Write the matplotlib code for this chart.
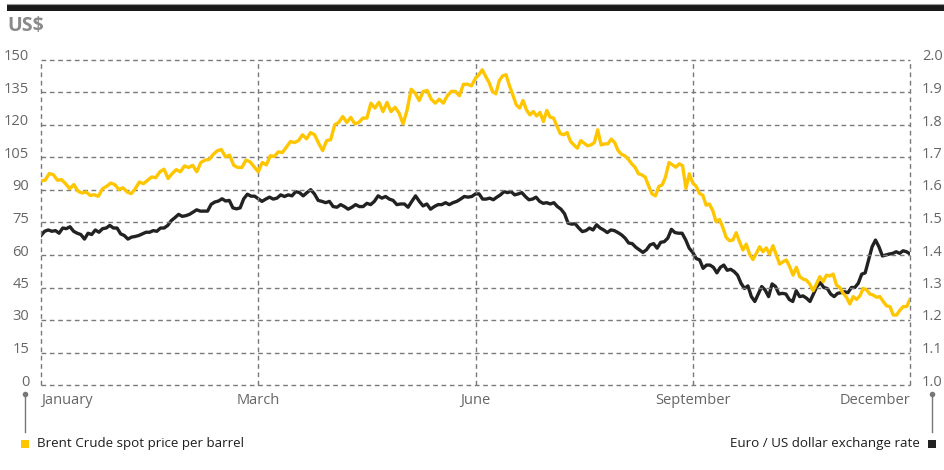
import numpy as np
import matplotlib.pyplot as plt
from matplotlib.transforms import ScaledTranslation
from matplotlib.patches import Rectangle
from matplotlib.lines import Line2D

plt.rcParams['font.family'] = ['Open Sans', 'DejaVu Sans']

# ---- data, split by the four month bands ----
month_labels = ["January", "March", "June", "September", "December"]
price_ticks = [0, 15, 30, 45, 60, 75, 90, 105, 120, 135, 150]
fx_ticks = [1.0, 1.1, 1.2, 1.3, 1.4, 1.5, 1.6, 1.7, 1.8, 1.9, 2.0]

# Brent Crude spot price, US$ per barrel
brent_jan_mar = [94.2, 94.5, 97.6, 97.1, 94.5, 94.8, 92.9, 90.6, 92.5, 89.5, 88.6, 89.1, 87.5, 87.8,
                 87.1, 90.6, 91.7, 93.2, 92.5, 90.2, 91.0, 89.1, 88.3, 90.6, 93.7, 92.9, 94.5, 96.0,
                 95.7, 98.4, 99.6, 95.3, 97.6, 99.4, 98.4, 101.1, 100.4, 101.4, 98.4, 102.7, 103.8,
                 104.1, 106.4, 108.1, 108.7, 105.3, 106.1, 101.4, 100.4, 100.4, 103.8, 103.0, 100.7, 98.4]
brent_mar_jun = [102.7, 101.6, 105.8, 105.5, 107.6, 107.3, 109.8, 112.4, 111.9, 112.8, 115.5, 113.6,
                 116.5, 115.5, 111.6, 108.2, 112.8, 113.2, 120.1, 121.2, 123.9, 121.2, 123.5, 120.5,
                 121.2, 123.2, 123.2, 130.1, 127.8, 130.5, 126.2, 130.4, 126.2, 128.2, 125.5, 120.5,
                 127.0, 136.5, 134.7, 131.3, 135.5, 135.9, 131.9, 130.1, 131.9, 130.1, 133.5, 135.5,
                 135.5, 133.5, 138.8, 138.8, 138.1, 141.6]
brent_jun_sep = [143.2, 145.5, 142.4, 139.6, 135.5, 134.4, 140.5, 142.7, 143.2, 138.1, 133.9, 129.3,
                 127.8, 131.3, 127.0, 124.7, 126.2, 124.2, 125.8, 121.6, 126.7, 123.6, 123.2, 119.4,
                 116.0, 115.5, 116.5, 112.4, 110.8, 109.3, 112.8, 111.6, 110.4, 110.8, 111.9, 117.8,
                 110.8, 111.3, 111.3, 113.5, 111.9, 108.2, 106.5, 105.8, 104.2, 102.1, 100.5, 97.5,
                 97.0, 95.9, 91.9, 88.2, 87.3, 91.6, 92.4, 96.2, 102.7, 101.6, 100.5, 102.1, 101.2,
                 90.8, 97.5, 93.2]
brent_sep_dec = [91.8, 88.4, 87.6, 83.0, 83.5, 80.4, 75.3, 76.4, 72.7, 68.1, 66.6, 66.9, 70.3, 66.1,
                 62.3, 65.0, 60.4, 57.9, 60.7, 63.8, 61.5, 63.3, 60.4, 64.3, 60.0, 55.8, 56.9, 57.7,
                 54.6, 50.7, 54.3, 50.0, 48.9, 48.4, 46.6, 43.5, 46.6, 50.0, 47.7, 50.7, 50.3, 51.2,
                 46.1, 45.0, 42.3, 40.5, 37.4, 40.8, 39.5, 41.1, 44.6, 43.9, 42.0, 41.5, 40.5, 40.8,
                 38.5, 36.5, 36.2, 32.3, 32.3, 34.6, 36.2, 36.2, 39.5]

# Euro / US dollar exchange rate
fx_jan_mar = [1.460, 1.473, 1.477, 1.473, 1.475, 1.467, 1.483, 1.481, 1.487, 1.473, 1.467, 1.463,
              1.449, 1.467, 1.463, 1.477, 1.470, 1.481, 1.483, 1.491, 1.483, 1.483, 1.465, 1.460,
              1.449, 1.455, 1.457, 1.460, 1.465, 1.470, 1.470, 1.475, 1.473, 1.483, 1.483, 1.491,
              1.506, 1.515, 1.525, 1.519, 1.521, 1.525, 1.532, 1.539, 1.535, 1.535, 1.535, 1.556,
              1.563, 1.566, 1.573, 1.566, 1.568, 1.545, 1.542, 1.545, 1.573, 1.587, 1.581, 1.581, 1.573]
fx_mar_jun = [1.565, 1.572, 1.578, 1.572, 1.575, 1.585, 1.580, 1.585, 1.582, 1.595, 1.592, 1.582,
              1.592, 1.601, 1.588, 1.568, 1.565, 1.561, 1.565, 1.549, 1.547, 1.555, 1.549, 1.541,
              1.547, 1.555, 1.549, 1.549, 1.559, 1.555, 1.565, 1.582, 1.575, 1.580, 1.572, 1.568,
              1.555, 1.557, 1.557, 1.547, 1.565, 1.582, 1.565, 1.551, 1.557, 1.541, 1.549, 1.555,
              1.555, 1.561, 1.555, 1.561, 1.565, 1.572, 1.580, 1.578, 1.580, 1.588]
fx_jun_sep = [1.588, 1.572, 1.572, 1.575, 1.570, 1.578, 1.585, 1.595, 1.592, 1.595, 1.585, 1.588,
              1.592, 1.580, 1.570, 1.572, 1.578, 1.565, 1.559, 1.561, 1.557, 1.561, 1.549, 1.541,
              1.527, 1.498, 1.495, 1.496, 1.483, 1.472, 1.475, 1.483, 1.477, 1.493, 1.483, 1.477,
              1.469, 1.477, 1.475, 1.469, 1.462, 1.452, 1.437, 1.435, 1.424, 1.416, 1.408, 1.416,
              1.431, 1.435, 1.421, 1.439, 1.441, 1.452, 1.479, 1.469, 1.467, 1.467, 1.447, 1.421, 1.408]
fx_sep_dec = [1.389, 1.385, 1.359, 1.369, 1.369, 1.362, 1.345, 1.362, 1.369, 1.353, 1.356, 1.349,
              1.338, 1.313, 1.297, 1.305, 1.272, 1.257, 1.280, 1.303, 1.292, 1.272, 1.311, 1.303,
              1.280, 1.282, 1.280, 1.263, 1.257, 1.290, 1.272, 1.274, 1.267, 1.257, 1.280, 1.303,
              1.315, 1.300, 1.297, 1.280, 1.272, 1.282, 1.284, 1.287, 1.284, 1.300, 1.300, 1.313,
              1.341, 1.345, 1.385, 1.425, 1.446, 1.425, 1.397, 1.400, 1.403, 1.405, 1.410, 1.405,
              1.413, 1.410, 1.403]

YELLOW = '#FFC600'
BLACK = '#222222'
GRID = '#7a7a7a'
TICK = '#666666'


def band_positions(bands):
    # each band spans one interval between month gridlines
    xs = [np.linspace(0, 1, len(bands[0]))]
    for k, b in enumerate(bands[1:], start=1):
        xs.append(np.linspace(k, k + 1, len(b) + 1)[1:])
    return np.concatenate(xs), np.concatenate([np.array(b) for b in bands])


x_brent, brent = band_positions([brent_jan_mar, brent_mar_jun, brent_jun_sep, brent_sep_dec])
x_fx, fx = band_positions([fx_jan_mar, fx_mar_jun, fx_jun_sep, fx_sep_dec])

# ---- figure ----
fig = plt.figure(figsize=(9.44, 4.70), dpi=100)
ax = fig.add_axes([41 / 944, 1 - 385 / 470, (910 - 41) / 944, (385 - 60) / 470])
ax2 = ax.twinx()

ax.set_xlim(0, 4)
ax.set_ylim(0, 150)
ax2.set_ylim(1.0, 2.0)

# dashed grid incl. the frame
for yv in price_ticks:
    ax.axhline(yv, color=GRID, linestyle=(0, (3.4, 2.6)), linewidth=1.0, clip_on=False, zorder=0)
for xv in range(5):
    ax.axvline(xv, color=GRID, linestyle=(0, (3.4, 2.6)), linewidth=1.0, clip_on=False, zorder=0)

ax2.plot(x_fx, fx, color=BLACK, linewidth=2.4, solid_joinstyle='round')
ax.plot(x_brent, brent, color=YELLOW, linewidth=2.4, solid_joinstyle='round', zorder=3)
ax.set_zorder(ax2.get_zorder() + 1)
ax.patch.set_visible(False)

for a in (ax, ax2):
    for s in a.spines.values():
        s.set_visible(False)

# ticks
up = ScaledTranslation(0, 0.05, fig.dpi_scale_trans)
ax.set_yticks(price_ticks)
ax.set_yticklabels([str(v) for v in price_ticks])
ax.tick_params(axis='y', length=0, pad=8.5, labelsize=10.5, labelcolor=TICK)
for lab in ax.get_yticklabels():
    lab.set_transform(lab.get_transform() + up)

ax2.set_yticks(fx_ticks)
ax2.set_yticklabels([f"{v:.1f}" for v in fx_ticks])
ax2.tick_params(axis='y', length=0, pad=8.5, labelsize=10.5, labelcolor=TICK)
for lab in ax2.get_yticklabels():
    lab.set_transform(lab.get_transform() + up)

ax.set_xticks(range(5))
ax.set_xticklabels(month_labels)
ax.tick_params(axis='x', length=0, pad=6, labelsize=10.5, labelcolor=TICK)
xl = ax.get_xticklabels()
xl[0].set_ha('left')
xl[-1].set_ha('right')

# header bar and unit
fig.patches.append(Rectangle((7 / 944, 1 - 11 / 470), 1, 7 / 470, transform=fig.transFigure,
                             facecolor='#1a1a1a', edgecolor='none'))
fig.lines.append(Line2D([7 / 944, 1], [1 - 3.5 / 470] * 2, transform=fig.transFigure,
                        color='#9a9a9a', linewidth=0.8))
fig.text(7 / 944, 1 - 26 / 470, "US$", fontsize=14, fontweight='bold', color='#8a8a8a',
         ha='left', va='center')

# legend keys
def key(xpix, color, text, right=False):
    fig.lines.append(Line2D([xpix / 944] * 2, [1 - 394 / 470, 1 - 432 / 470],
                            transform=fig.transFigure, color='#777777', linewidth=1.0))
    fig.lines.append(Line2D([xpix / 944], [1 - 394 / 470], transform=fig.transFigure,
                            marker='o', markersize=3, color='#777777'))
    fig.patches.append(Rectangle(((xpix - 4) / 944, 1 - 448 / 470), 8 / 944, 8 / 470,
                                 transform=fig.transFigure, facecolor=color, edgecolor='none'))
    if right:
        fig.text((xpix - 12) / 944, 1 - 444 / 470, text, ha='right', va='center',
                 fontsize=9.6, color='#1e1e1e')
    else:
        fig.text((xpix + 12) / 944, 1 - 444 / 470, text, ha='left', va='center',
                 fontsize=9.6, color='#1e1e1e')


key(25, YELLOW, "Brent Crude spot price per barrel")
key(932, BLACK, "Euro / US dollar exchange rate", right=True)

fig.savefig('out.png', dpi=100)
